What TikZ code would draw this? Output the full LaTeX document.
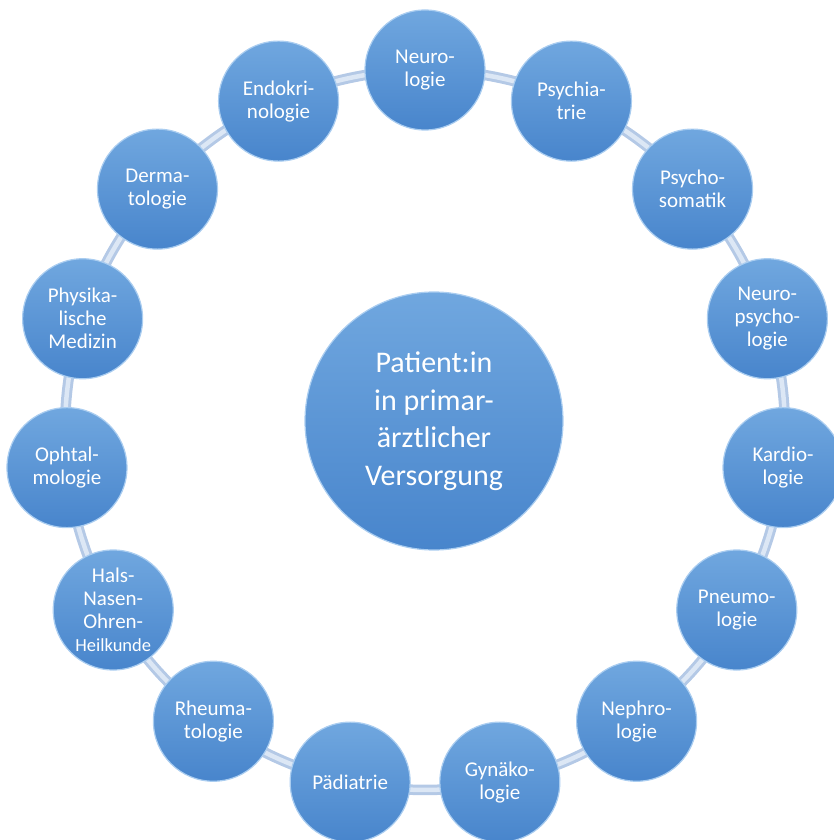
\documentclass[tikz,border=0pt]{standalone}
\usepackage{fontspec}
\setmainfont{Carlito}
\usetikzlibrary{backgrounds}

\definecolor{fachtop}{RGB}{112,167,223}
\definecolor{fachbot}{RGB}{72,133,204}
\definecolor{fachrim}{RGB}{170,205,240}
\definecolor{ringedge}{RGB}{180,201,230}
\definecolor{ringmid}{RGB}{220,231,245}

\begin{document}
\begin{tikzpicture}[
  fach/.style={circle, minimum size=120pt, inner sep=0pt, top color=fachtop, bottom color=fachbot,
    draw=fachrim, line width=1.2pt, text=white, align=center, font=\fontsize{21}{23}\selectfont},
  mitte/.style={fach, minimum size=258pt, font=\fontsize{30}{37.5}\selectfont},
  ring/.style={draw=ringedge, line width=3pt, double=ringmid, double distance=4.5pt,
    bend left=12, looseness=0.86}
]
\useasboundingbox (-425pt,-410pt) rectangle (408pt,430pt);

\node[mitte] (pat) at (9pt,9pt) {Patient:in\\in primar-\\ärztlicher\\Versorgung};

\node[fach] (neuro) at (90:360pt) {Neuro-\\logie};
\node[fach] (psych) at (66:360pt) {Psychia-\\trie};
\node[fach] (psysom) at (42:360pt) {Psycho-\\somatik};
\node[fach] (neuropsy) at (18:360pt) {Neuro-\\psycho-\\logie};
\node[fach] (kardio) at (-6:360pt) {Kardio-\\logie};
\node[fach] (pneumo) at (-30:360pt) {Pneumo-\\logie};
\node[fach] (nephro) at (-54:360pt) {Nephro-\\logie};
\node[fach] (gyn) at (-78:360pt) {Gynäko-\\logie};
\node[fach] (paed) at (-102:360pt) {Pädiatrie};
\node[fach] (rheuma) at (-126:360pt) {Rheuma-\\tologie};
\node[fach] (hno) at (-150:360pt) {Hals-\\Nasen-\\Ohren-\\{\fontsize{18.5}{20}\selectfont Heilkunde}};
\node[fach] (ophth) at (-174:360pt) {Ophtal-\\mologie};
\node[fach] (physmed) at (162:360pt) {Physika-\\lische\\Medizin};
\node[fach] (derma) at (138:360pt) {Derma-\\tologie};
\node[fach] (endo) at (114:360pt) {Endokri-\\nologie};

\begin{scope}[on background layer]
\draw[ring] (neuro.center) to (psych.center) to (psysom.center) to (neuropsy.center)
      to (kardio.center) to (pneumo.center) to (nephro.center) to (gyn.center)
      to (paed.center) to (rheuma.center) to (hno.center) to (ophth.center)
      to (physmed.center) to (derma.center) to (endo.center) to (neuro.center);
\end{scope}
\end{tikzpicture}
\end{document}
